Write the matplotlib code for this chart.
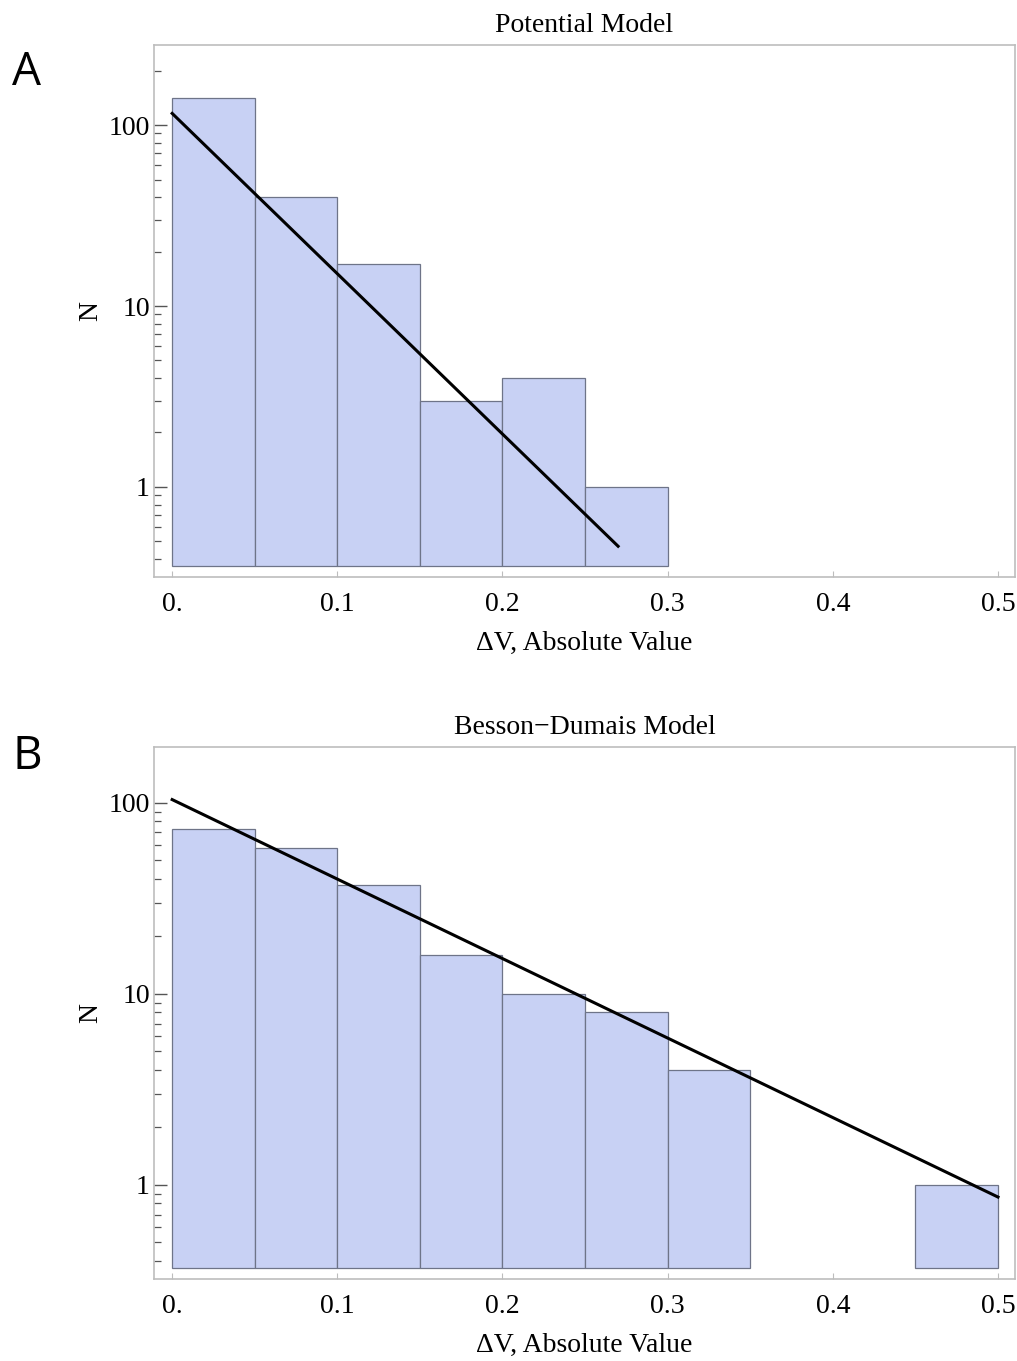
import numpy as np
import matplotlib
matplotlib.use("Agg")
import matplotlib.pyplot as plt
from matplotlib.ticker import LogLocator, FixedLocator, NullFormatter

# ---- data ----
bin_width = 0.05
edges_A = [0.00, 0.05, 0.10, 0.15, 0.20, 0.25]
counts_A = [141, 40, 17, 3, 4, 1]
edges_B = [0.00, 0.05, 0.10, 0.15, 0.20, 0.25, 0.30, 0.45]
counts_B = [73, 58, 37, 16, 10, 8, 4, 1]

# exponential fit parameters N = amp * exp(-rate * x)
fit_A_amp, fit_A_rate, fit_A_xmax = 116.0, 20.4, 0.27
fit_B_amp, fit_B_rate, fit_B_xmax = 104.0, 9.58, 0.50

titles = ["Potential Model", "Besson\u2212Dumais Model"]
panel_letters = ["A", "B"]
xticks = [0.0, 0.1, 0.2, 0.3, 0.4, 0.5]
xticklabels = ["0.", "0.1", "0.2", "0.3", "0.4", "0.5"]
yticks = [1, 10, 100]
yticklabels = ["1", "10", "100"]
xlabel = "\u0394V, Absolute Value"
ylabel = "N"

plt.rcParams['font.family'] = ['Liberation Serif', 'DejaVu Serif']

W, H = 1017, 1361
fig = plt.figure(figsize=(W/100, H/100), dpi=100)

bar_color = '#c8d1f4'
edge_color = '#6e7488'
frame_color = '#bdbdbd'
FS = 20

panels = [
    dict(edges=edges_A, counts=counts_A, amp=fit_A_amp, rate=fit_A_rate, xmax=fit_A_xmax,
         rect=[154/W, 1-577/H, 861/W, 532/H], ylim=(0.318, 277), base=0.366, letter_y=73),
    dict(edges=edges_B, counts=counts_B, amp=fit_B_amp, rate=fit_B_rate, xmax=fit_B_xmax,
         rect=[154/W, 1-1279/H, 861/W, 532/H], ylim=(0.322, 196), base=0.367, letter_y=757),
]

for i, p in enumerate(panels):
    ax = fig.add_axes(p['rect'])
    ax.set_yscale('log')
    base = p['base']
    heights = [c - base for c in p['counts']]
    ax.bar(p['edges'], heights, width=bin_width, bottom=base, align='edge',
           color=bar_color, edgecolor=edge_color, linewidth=0.9, zorder=2)
    xs = np.linspace(0, p['xmax'], 200)
    ax.plot(xs, p['amp'] * np.exp(-p['rate'] * xs), color='black', lw=2.2, zorder=3)
    ax.set_xlim(-0.011, 0.5103)
    ax.set_ylim(*p['ylim'])
    for s in ax.spines.values():
        s.set_color(frame_color)
        s.set_linewidth(1.2)
    ax.xaxis.set_major_locator(FixedLocator(xticks))
    ax.set_xticklabels(xticklabels)
    ax.yaxis.set_major_locator(FixedLocator(yticks))
    ax.set_yticklabels(yticklabels)
    ax.yaxis.set_minor_locator(LogLocator(base=10, subs=np.arange(2, 10), numticks=20))
    ax.yaxis.set_minor_formatter(NullFormatter())
    ax.tick_params(axis='x', which='both', direction='in', length=4, width=0.8,
                   color=frame_color, labelsize=FS, pad=11, top=False)
    ax.tick_params(axis='y', which='major', direction='in', length=9, width=1.0,
                   color='#555555', labelsize=FS, pad=3, right=False)
    ax.tick_params(axis='y', which='minor', direction='in', length=5, width=0.9,
                   color='#555555', right=False)
    ax.set_xlabel(xlabel, fontsize=FS, labelpad=10)
    ax.set_ylabel(ylabel, fontsize=FS, labelpad=4)
    ax.set_title(titles[i], fontsize=FS, pad=9)
    fig.text(27/W, 1 - p['letter_y']/H, panel_letters[i], fontsize=33,
             family=['Open Sans', 'DejaVu Sans'], ha='center', va='center')

fig.savefig('out.png', dpi=100)
